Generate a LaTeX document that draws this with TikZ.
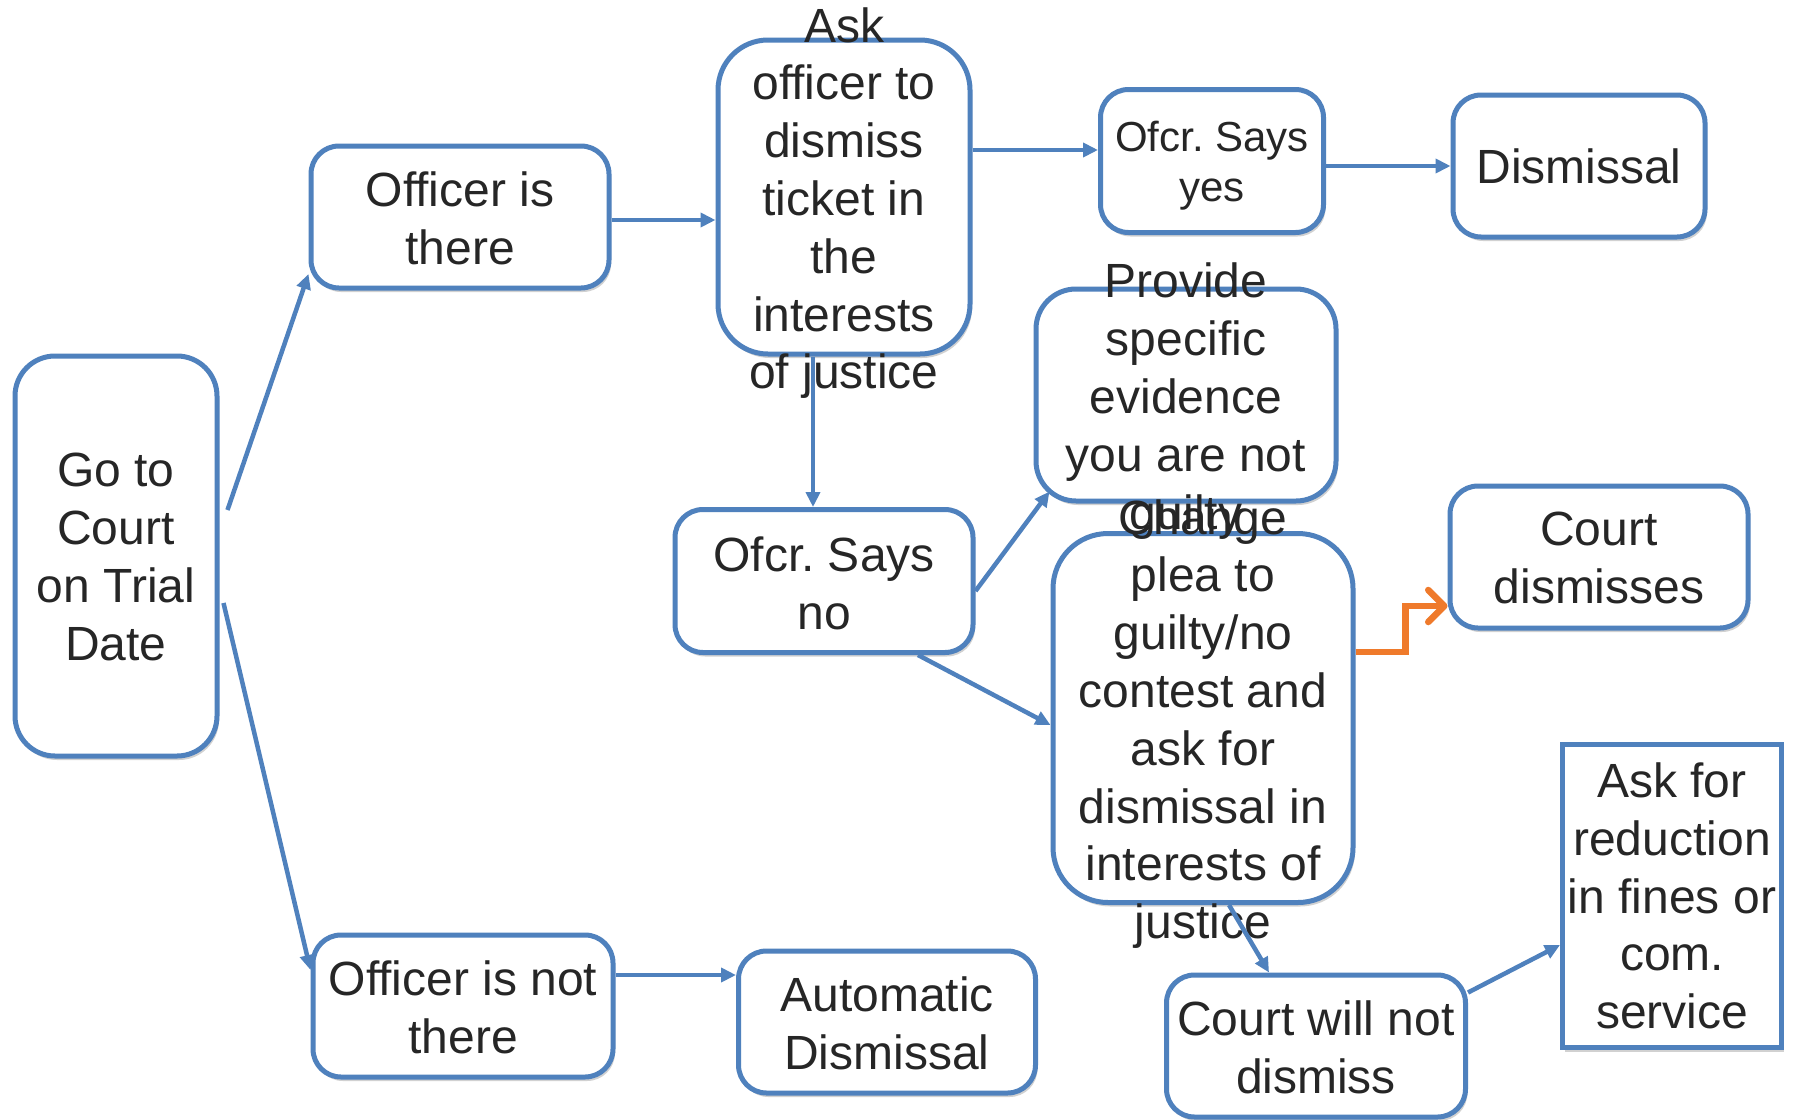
\documentclass[tikz,border=0pt]{standalone}
\usepackage{fontspec}
\setmainfont{Liberation Sans}
\frenchspacing
\usetikzlibrary{arrows.meta,shadows,calc}
\definecolor{bblue}{HTML}{4F81BD}
\definecolor{txtc}{HTML}{262626}
\definecolor{orng}{HTML}{EF7A2B}
\begin{document}
\begin{tikzpicture}[x=1pt,y=-1pt,
 box/.style={draw=bblue,line width=5pt,fill=white,inner sep=0pt,
   drop shadow={shadow xshift=2pt,shadow yshift=-4pt,opacity=0.18,fill=black}},
 lbl/.style={text=txtc,align=center,inner sep=0pt,font=\fontsize{48}{57.8}\selectfont},
 lbls/.style={text=txtc,align=center,inner sep=0pt,font=\fontsize{42}{50}\selectfont},
 con/.style={draw=bblue,line width=4.5pt,-{Triangle[length=15pt,width=14pt]}},
 ocon/.style={draw=orng,line width=6.5pt,-{Straight Barb[length=16pt,width=32pt,line cap=round,line join=round]}}]
\useasboundingbox (0,0) rectangle (1793,1119);
\fill[white] (0,0) rectangle (1793,1119);
% boxes
\node[box,minimum width=202pt,minimum height=400pt,rounded corners=40pt] (court) at (116,556) {};
\node[box,minimum width=298pt,minimum height=142pt,rounded corners=28pt] (there) at (460,217) {};
\node[box,minimum width=252pt,minimum height=314pt,rounded corners=50pt] (ask) at (844,197) {};
\node[box,minimum width=223pt,minimum height=143pt,rounded corners=28pt] (yes) at (1212,161) {};
\node[box,minimum width=252pt,minimum height=142pt,rounded corners=28pt] (dism) at (1579,166) {};
\node[box,minimum width=300pt,minimum height=212pt,rounded corners=40pt] (prov) at (1186,395) {};
\node[box,minimum width=298pt,minimum height=143pt,rounded corners=28pt] (no) at (824,581) {};
\node[box,minimum width=300pt,minimum height=369pt,rounded corners=55pt] (plea) at (1203,718) {};
\node[box,minimum width=298pt,minimum height=142pt,rounded corners=28pt] (cdis) at (1599,557) {};
\node[box,minimum width=219pt,minimum height=303pt,sharp corners] (red) at (1672,896) {};
\node[box,minimum width=299pt,minimum height=142pt,rounded corners=28pt] (cwn) at (1316,1046) {};
\node[box,minimum width=297pt,minimum height=142pt,rounded corners=28pt] (auto) at (887,1022) {};
\node[box,minimum width=300pt,minimum height=142pt,rounded corners=28pt] (notthere) at (463,1006) {};
% texts
\node[lbl] (tcourt) at ([yshift=-1pt]court) {Go to\\Court\\on Trial\\Date};
\node[lbl] (tthere) at ([yshift=-1pt]there) {Officer is\\there};
\node[lbl] (task) at ([yshift=-6pt]ask) {Ask\\officer to\\dismiss\\ticket in\\the\\interests\\of justice};
\node[lbls] (tyes) at ([yshift=-5pt]yes) {Ofcr. Says\\yes};
\node[lbl] (tdism) at (dism) {Dismissal};
\node[lbl] (tprov) at ([yshift=-6pt]prov) {Provide\\specific\\evidence\\you are not\\guilty};
\node[lbl] (tno) at ([yshift=-2pt]no) {Ofcr. Says\\no};
\node[lbl] (tplea) at ([yshift=-6pt]plea) {Change\\plea to\\guilty/no\\contest and\\ask for\\dismissal in\\interests of\\justice};
\node[lbl] (tcdis) at ([yshift=-1pt]cdis) {Court\\dismisses};
\node[lbl] (tred) at (red) {Ask for\\reduction\\in fines or\\com.\\service};
\node[lbl] (tcwn) at ([yshift=-1pt]cwn) {Court will not\\dismiss};
\node[lbl] (tauto) at ([yshift=-1pt]auto) {Automatic\\Dismissal};
\node[lbl] (tnot) at ([yshift=-1pt]notthere) {Officer is not\\there};
% connectors
\draw[con] ([shift={(8,-46)}]court.east) -- ([shift={(0,57)}]there.west);
\draw[con] ([shift={(4,47)}]court.east) -- ([shift={(0,-36)}]notthere.west);
\coordinate (cS) at ([yshift=-3pt]there.east);
\draw[con] (cS) -- (cS -| ask.west);
\coordinate (dIn) at ([yshift=11pt]yes.west);
\draw[con] (dIn -| ask.east) -- (dIn);
\draw[con] (dism.west -| yes.east) -- (dism.west);
\draw[con] ([xshift=-31pt]ask.south) -- ([xshift=-11pt]no.north);
\draw[con] ([yshift=-10pt]no.east) -- ([shift={(16,-12)}]prov.south west);
\draw[con] ([xshift=94pt]no.south) -- ([yshift=-7pt]plea.west);
\draw[ocon] ([yshift=66pt]plea.east) -- ++(50,0) |- ([yshift=-49pt]cdis.west);
\draw[con] ([xshift=26pt]plea.south) -- ([xshift=-47pt]cwn.north);
\draw[con] ([yshift=-20pt]cwn.north east) -- ([yshift=-49pt]red.west);
\coordinate (lS) at ([yshift=31pt]notthere.east);
\draw[con] (lS) -- (lS -| auto.west);
\end{tikzpicture}
\end{document}
